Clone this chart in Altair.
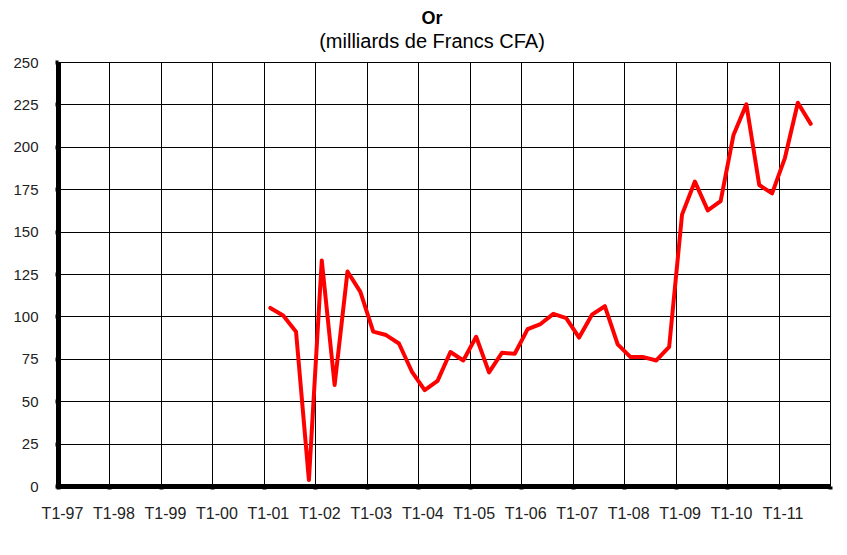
import altair as alt
import pandas as pd

# Axis categories: quarters T1-97 .. T4-11
years = ["97", "98", "99", "00", "01", "02", "03", "04", "05", "06", "07", "08", "09", "10", "11"]
quarters = [f"T{q}-{y}" for y in years for q in (1, 2, 3, 4)]

# Series: first and last quarter with data
series_start = "T1-01"
series_values = [
    105, 100.5, 91, 3.5,
    133, 59.5, 126.5, 114.5,
    91, 89, 84, 67.5,
    56.5, 62, 79, 74,
    88, 67, 78.5, 78,
    92.5, 95.5, 101.5, 99,
    87.5, 101, 106, 83.5,
    76, 76, 74, 82,
    160, 179.5, 162.5, 168,
    207, 225, 177.5, 172.5,
    193.5, 226, 213.5,
]
y_ticks = [0, 25, 50, 75, 100, 125, 150, 175, 200, 225, 250]

start = quarters.index(series_start)
df = pd.DataFrame({
    "trimestre": quarters[start:start + len(series_values)],
    "valeur": series_values,
})
# category centre on a continuous axis (categories sit between tick marks)
df["pos"] = [quarters.index(t) + 0.5 for t in df["trimestre"]]

n = len(quarters)
tick_vals = list(range(0, n + 1, 4))
label_map = {str(i): quarters[i] for i in range(0, n, 4)}
label_expr = "{" + ",".join(f"'{k}':'{v}'" for k, v in label_map.items()) + "}[datum.value] || ''"

line = alt.Chart(df).mark_line(
    color="#FF0000", strokeWidth=4, strokeJoin="round", strokeCap="round"
).encode(
    x=alt.X("pos:Q", scale=alt.Scale(domain=[0, n], nice=False, zero=False),
            axis=alt.Axis(values=tick_vals, labelExpr=label_expr, title=None,
                          grid=True, gridColor="#000000", gridWidth=1,
                          domainColor="#000000", domainWidth=5,
                          tickColor="#000000", tickWidth=4, tickSize=3,
                          labelFont="Liberation Sans", labelFontSize=16,
                          labelColor="#222222", labelPadding=16, labelOffset=4,
                          labelFlush=False, labelOverlap=False)),
    y=alt.Y("valeur:Q", scale=alt.Scale(domain=[0, 250], nice=False),
            axis=alt.Axis(values=y_ticks, title=None,
                          grid=True, gridColor="#000000", gridWidth=1,
                          domainColor="#000000", domainWidth=5,
                          tickColor="#000000", tickWidth=4, tickSize=3,
                          labelFont="Liberation Sans", labelFontSize=15,
                          labelColor="#222222", labelPadding=17,
                          labelFlush=False, labelOverlap=False)),
)

chart = line.properties(
    width=772,
    height=424,
    title=alt.TitleParams(
        text="Or",
        subtitle="(milliards de Francs CFA)",
        anchor="middle",
        dx=-12,
        offset=3,
        font="Liberation Sans",
        fontSize=18,
        fontWeight="bold",
        color="#000000",
        subtitleFont="Liberation Sans",
        subtitleFontSize=20,
        subtitleColor="#000000",
        subtitlePadding=4,
    ),
    autosize=alt.AutoSizeParams(type="none"),
    padding={"left": 50, "top": 54, "right": 9, "bottom": 61},
).configure_view(
    stroke="#808080", strokeWidth=1
).configure(background="#FFFFFF")

chart.save("out.html", embed_options={"renderer": "svg", "actions": False})
